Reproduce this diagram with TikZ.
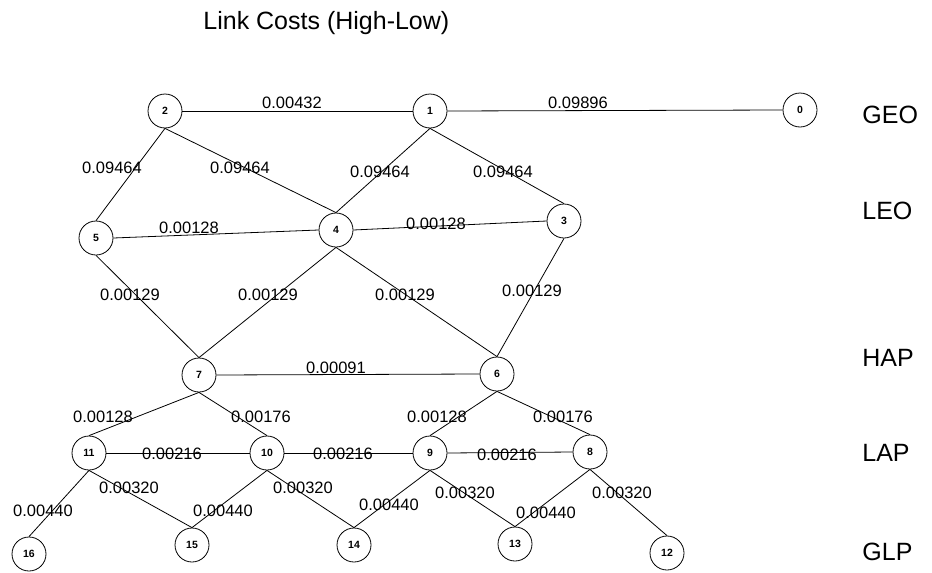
\documentclass[tikz,border=0pt]{standalone}
\usepackage{fontspec}
\setmainfont{Liberation Sans}
\begin{document}
\begin{tikzpicture}[x=1pt,y=-1pt,line width=.8pt,
    sat/.style={circle,draw,minimum size=34pt,inner sep=0pt,font=\bfseries\fontsize{10.5}{12}\selectfont},
    cost/.style={inner sep=0pt,font=\fontsize{16.5}{18}\selectfont},
    layer/.style={anchor=west,inner sep=0pt,font=\fontsize{25}{28}\selectfont}]
        \useasboundingbox (0,0) rectangle (932,573);
        \node[anchor=base west,inner sep=0pt,font=\fontsize{25}{28}\selectfont] (title) at (203,29) {Link Costs (High-Low)};
        \foreach \n/\x/\y in {0/800/110,1/430/111,2/165/111,3/564/221,4/336/230,5/96/238,
            6/497/374,7/199/375,8/590/452,9/430/453,10/267/453,11/89/453,
            12/667/553,13/515/544,14/354/545,15/192/545,16/29/554}{
          \node[sat] (n\n) at (\x,\y) {\n};
        }
        \foreach \i/\l/\y in {geo/GEO/115,leo/LEO/211,hap/HAP/358,lap/LAP/453,glp/GLP/552}{
          \node[layer] (\i) at (862,\y) {\l};
        }
        \foreach \a/\b in {2/1,1/0,5/4,4/3,7/6,11/10,10/9,9/8}{
          \draw (n\a.east) -- (n\b.west);
        }
        \foreach \a/\b in {2/5,2/4,1/4,1/3,5/7,4/7,4/6,3/6,7/11,7/10,6/9,6/8,
            11/16,11/15,10/15,10/14,9/14,9/13,8/13,8/12}{
          \draw (n\a.south) -- (n\b.north);
        }
        \foreach \c/\v/\x/\y in {1/0.00432/292/103,2/0.09896/578/103,3/0.09464/112/168,
            4/0.09464/240/168,5/0.09464/380/172,6/0.09464/503/172,7/0.00128/189/228,
            8/0.00128/436/224,9/0.00129/130/295,10/0.00129/268/295,11/0.00129/405/295,
            12/0.00129/532/291,13/0.00091/336/368,14/0.00128/103/417,15/0.00176/261/417,
            16/0.00128/437/417,17/0.00176/563/417,18/0.00216/172/454,19/0.00216/343/454,
            20/0.00216/507/455,21/0.00320/129/488,22/0.00320/303/488,23/0.00320/465/493,
            24/0.00320/622/493,25/0.00440/43/511,26/0.00440/223/511,27/0.00440/389/505,
            28/0.00440/546/513}{
          \node[cost] (c\c) at (\x,\y) {\v};
        }
      \end{tikzpicture}
\end{document}
